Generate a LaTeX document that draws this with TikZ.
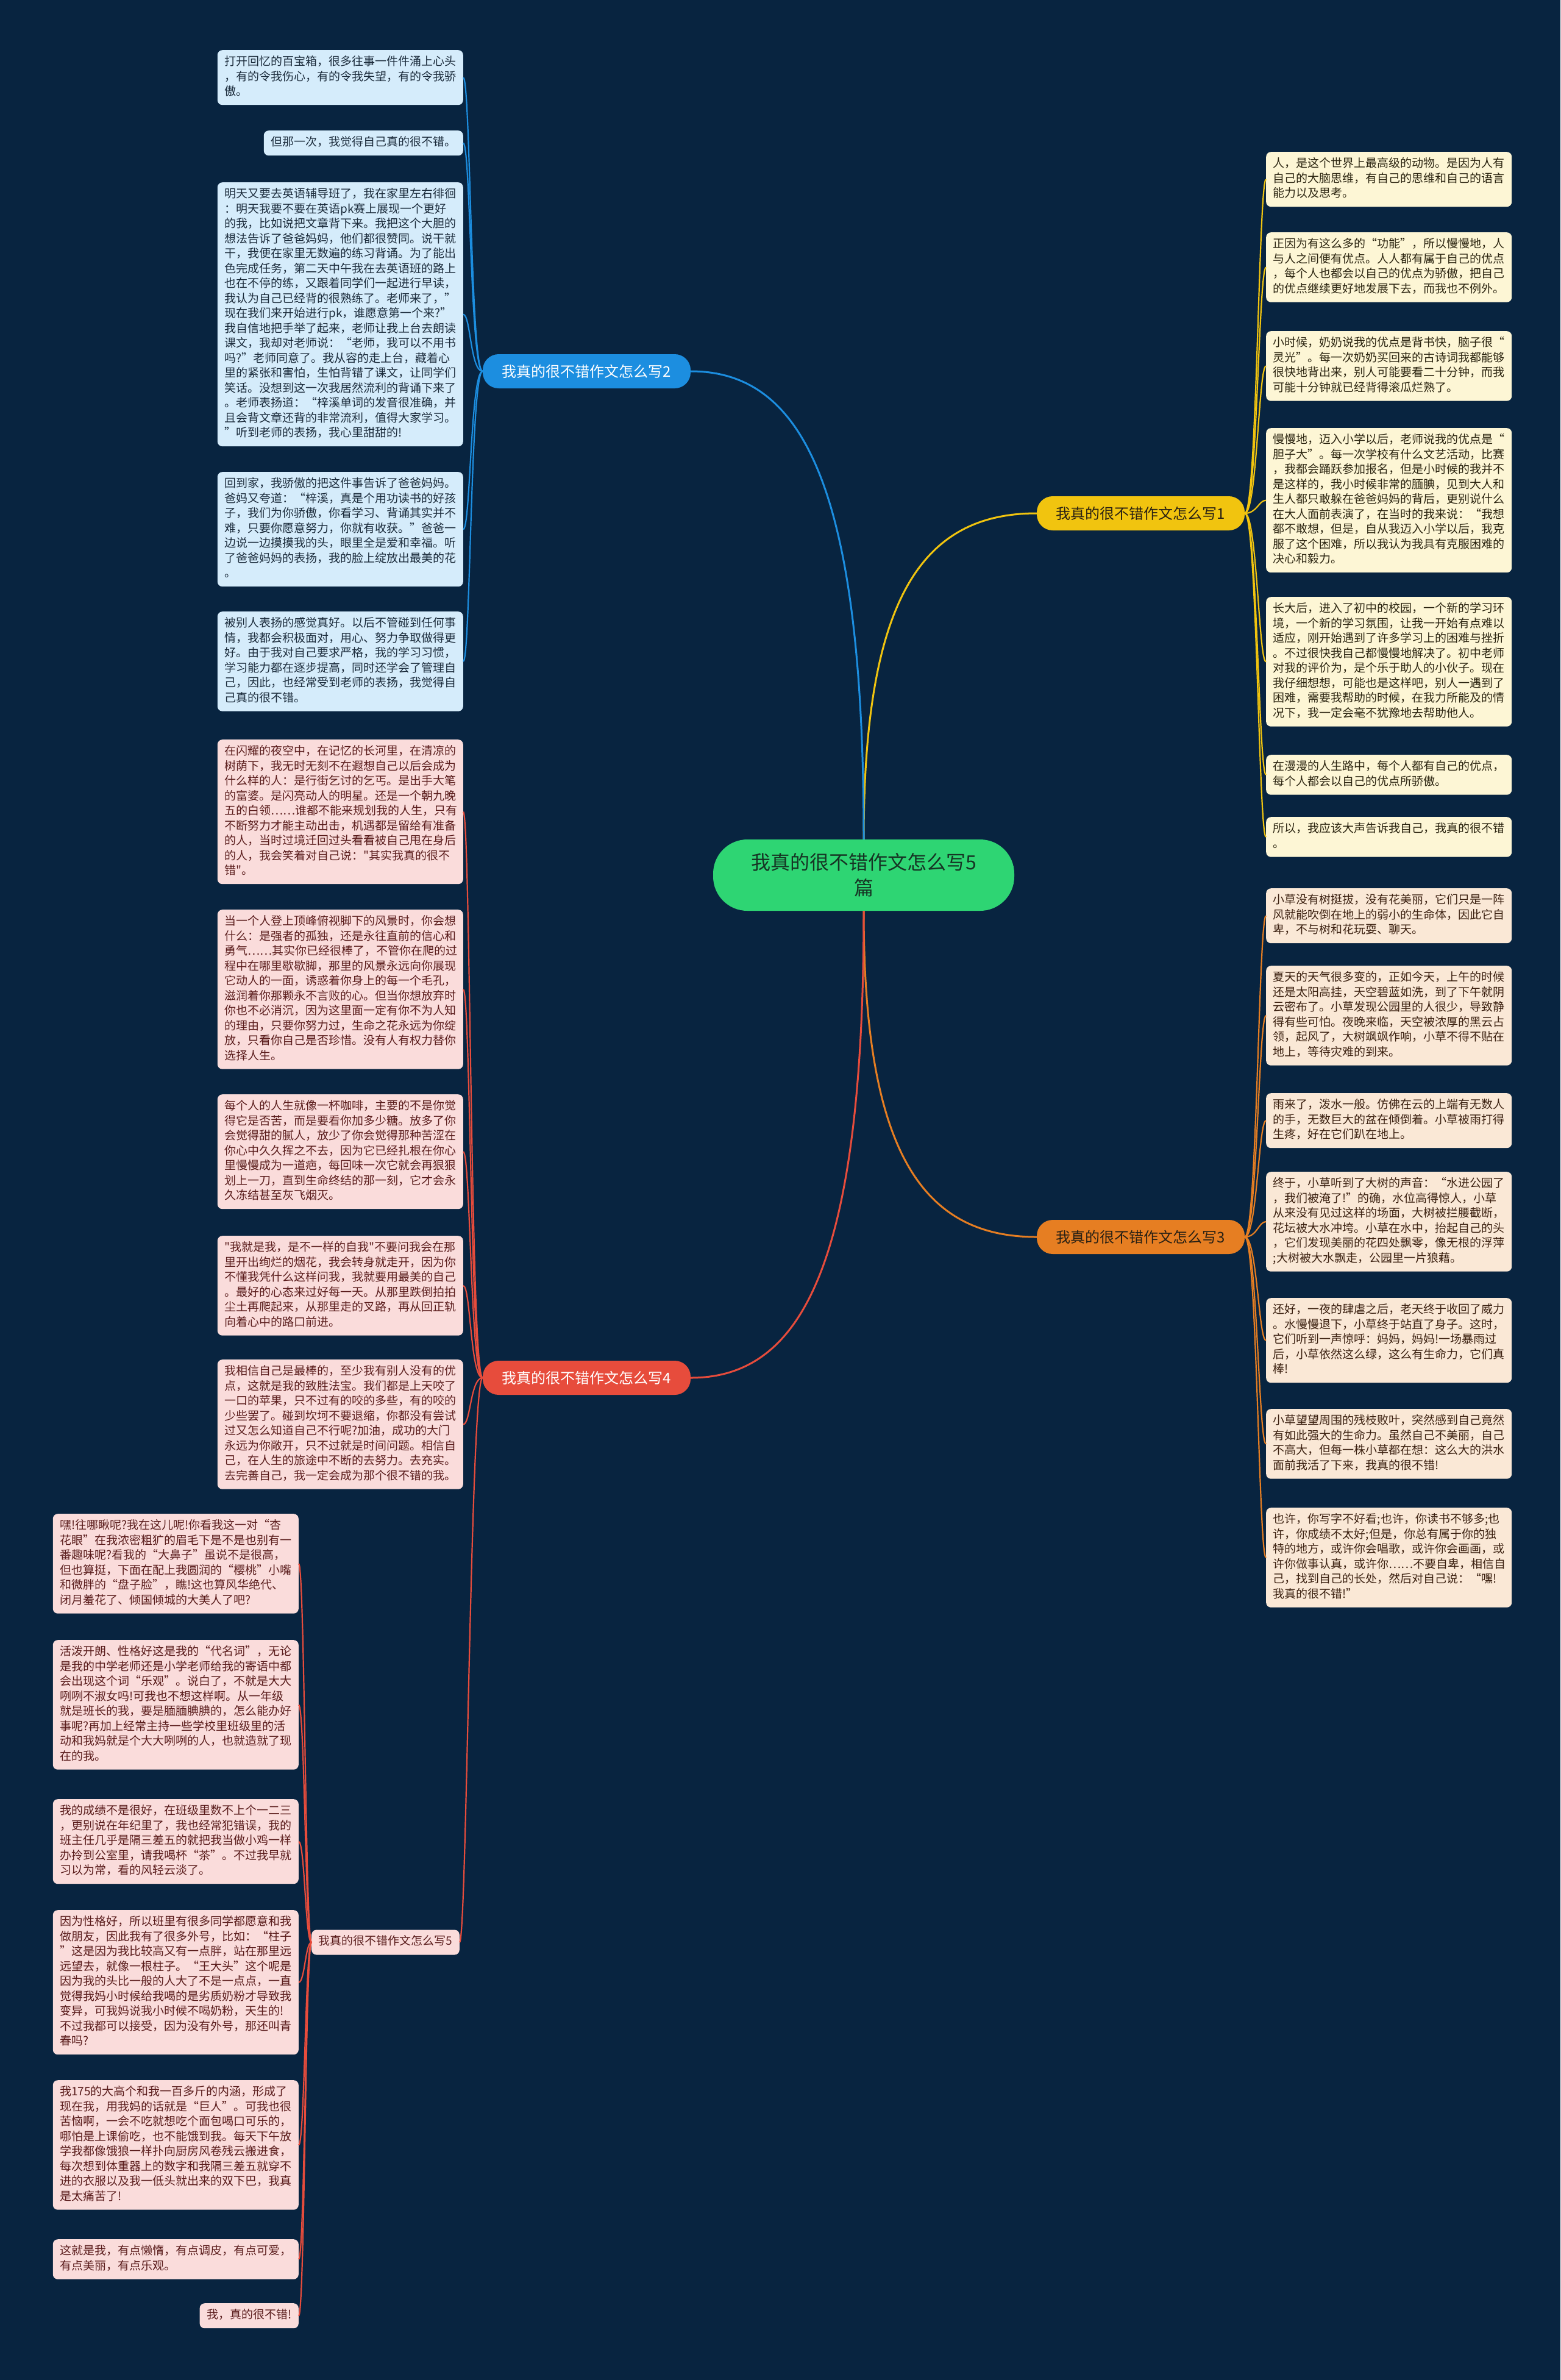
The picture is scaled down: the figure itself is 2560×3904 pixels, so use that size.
\documentclass[tikz,border=0pt]{standalone}
\usepackage{fontspec}
\setmainfont{Noto Sans CJK SC}
\newfontfamily\cjkplain{Noto Sans CJK SC}
\usetikzlibrary{calc}
\definecolor{bg}{RGB}{8,36,64}
\definecolor{bluec}{RGB}{28,142,224}
\definecolor{yellowc}{RGB}{241,196,15}
\definecolor{orangec}{RGB}{230,126,34}
\definecolor{redc}{RGB}{231,76,60}
\definecolor{greenc}{RGB}{46,213,115}
\definecolor{blfill}{RGB}{213,236,251}
\definecolor{ylfill}{RGB}{253,246,213}
\definecolor{olfill}{RGB}{250,232,214}
\definecolor{rlfill}{RGB}{250,220,219}
\definecolor{bltext}{RGB}{27,43,59}
\definecolor{yltext}{RGB}{43,36,16}
\definecolor{oltext}{RGB}{59,32,16}
\definecolor{rltext}{RGB}{90,28,28}
\definecolor{labdark}{RGB}{40,32,20}
\definecolor{centertext}{RGB}{22,52,36}
\tikzset{
  leaf/.style={rounded corners=8pt, inner xsep=11.5pt, inner ysep=8.25pt, align=left,
    font=\cjkplain\fontsize{19}{24.5}\selectfont,
    execute at begin node=\strut, execute at end node=\strut},
  wide/.style={text width=380pt},
  bl/.style={leaf, fill=blfill, text=bltext},
  yl/.style={leaf, fill=ylfill, text=yltext},
  ol/.style={leaf, fill=olfill, text=oltext},
  rl/.style={leaf, fill=rlfill, text=rltext},
  lab/.style={rounded corners=26pt, minimum width=341pt, minimum height=56pt, inner sep=0pt,
    font=\cjkplain\fontsize{24}{28}\selectfont},
  mainline/.style={line width=3pt},
  subline/.style={line width=2.2pt},
}
\begin{document}
\begin{tikzpicture}[x=1pt,y=-1pt]
\fill[bg] (0,0) rectangle (2560,3904);
\useasboundingbox (0,0) rectangle (2560,3904);

% center
\node[fill=greenc, text=centertext, rounded corners=56pt, minimum width=494pt, minimum height=117pt,
  inner sep=0pt, align=center, font=\cjkplain\fontsize{32}{42}\selectfont] (C) at (1417,1435.5)
  {我真的很不错作文怎么写5\\篇};

% branch labels
\node[lab, fill=yellowc, text=labdark] (L1) at (1871.5,842) {我真的很不错作文怎么写1};
\node[lab, fill=bluec, text=white] (L2) at (962.5,609) {我真的很不错作文怎么写2};
\node[lab, fill=orangec, text=labdark] (L3) at (1871.5,2029) {我真的很不错作文怎么写3};
\node[lab, fill=redc, text=white] (L4) at (962.5,2260) {我真的很不错作文怎么写4};
\node[rl] (L5) at (632.5,3186) {我真的很不错作文怎么写5};

% branch 2 leaves
\node[bl, wide, anchor=north east] (b1) at (760,82) {打开回忆的百宝箱，很多往事一件件涌上心头\\，有的令我伤心，有的令我失望，有的令我骄\\傲。};
\node[bl, anchor=north east] (b2) at (760,214) {但那一次，我觉得自己真的很不错。};
\node[bl, wide, anchor=north east] (b3) at (760,299) {明天又要去英语辅导班了，我在家里左右徘徊\\：明天我要不要在英语pk赛上展现一个更好\\的我，比如说把文章背下来。我把这个大胆的\\想法告诉了爸爸妈妈，他们都很赞同。说干就\\干，我便在家里无数遍的练习背诵。为了能出\\色完成任务，第二天中午我在去英语班的路上\\也在不停的练，又跟着同学们一起进行早读，\\我认为自己已经背的很熟练了。老师来了，”\\现在我们来开始进行pk，谁愿意第一个来?”\\我自信地把手举了起来，老师让我上台去朗读\\课文，我却对老师说：“老师，我可以不用书\\吗?”老师同意了。我从容的走上台，藏着心\\里的紧张和害怕，生怕背错了课文，让同学们\\笑话。没想到这一次我居然流利的背诵下来了\\。老师表扬道：“梓溪单词的发音很准确，并\\且会背文章还背的非常流利，值得大家学习。\\”听到老师的表扬，我心里甜甜的!};
\node[bl, wide, anchor=north east] (b4) at (760,774) {回到家，我骄傲的把这件事告诉了爸爸妈妈。\\爸妈又夸道：“梓溪，真是个用功读书的好孩\\子，我们为你骄傲，你看学习、背诵其实并不\\难，只要你愿意努力，你就有收获。”爸爸一\\边说一边摸摸我的头，眼里全是爱和幸福。听\\了爸爸妈妈的表扬，我的脸上绽放出最美的花\\。};
\node[bl, wide, anchor=north east] (b5) at (760,1003) {被别人表扬的感觉真好。以后不管碰到任何事\\情，我都会积极面对，用心、努力争取做得更\\好。由于我对自己要求严格，我的学习习惯，\\学习能力都在逐步提高，同时还学会了管理自\\己，因此，也经常受到老师的表扬，我觉得自\\己真的很不错。};

% branch 4 leaves
\node[rl, wide, anchor=north east] (r1) at (760,1213) {在闪耀的夜空中，在记忆的长河里，在清凉的\\树荫下，我无时无刻不在遐想自己以后会成为\\什么样的人：是行街乞讨的乞丐。是出手大笔\\的富婆。是闪亮动人的明星。还是一个朝九晚\\五的白领……谁都不能来规划我的人生，只有\\不断努力才能主动出击，机遇都是留给有准备\\的人，当时过境迁回过头看看被自己甩在身后\\的人，我会笑着对自己说："其实我真的很不\\错"。};
\node[rl, wide, anchor=north east] (r2) at (760,1492) {当一个人登上顶峰俯视脚下的风景时，你会想\\什么：是强者的孤独，还是永往直前的信心和\\勇气……其实你已经很棒了，不管你在爬的过\\程中在哪里歇歇脚，那里的风景永远向你展现\\它动人的一面，诱惑着你身上的每一个毛孔，\\滋润着你那颗永不言败的心。但当你想放弃时\\你也不必消沉，因为这里面一定有你不为人知\\的理由，只要你努力过，生命之花永远为你绽\\放，只看你自己是否珍惜。没有人有权力替你\\选择人生。};
\node[rl, wide, anchor=north east] (r3) at (760,1795) {每个人的人生就像一杯咖啡，主要的不是你觉\\得它是否苦，而是要看你加多少糖。放多了你\\会觉得甜的腻人，放少了你会觉得那种苦涩在\\你心中久久挥之不去，因为它已经扎根在你心\\里慢慢成为一道疤，每回味一次它就会再狠狠\\划上一刀，直到生命终结的那一刻，它才会永\\久冻结甚至灰飞烟灭。};
\node[rl, wide, anchor=north east] (r4) at (760,2027) {"我就是我，是不一样的自我"不要问我会在那\\里开出绚烂的烟花，我会转身就走开，因为你\\不懂我凭什么这样问我，我就要用最美的自己\\。最好的心态来过好每一天。从那里跌倒拍拍\\尘土再爬起来，从那里走的叉路，再从回正轨\\向着心中的路口前进。};
\node[rl, wide, anchor=north east] (r5) at (760,2230) {我相信自己是最棒的，至少我有别人没有的优\\点，这就是我的致胜法宝。我们都是上天咬了\\一口的苹果，只不过有的咬的多些，有的咬的\\少些罢了。碰到坎坷不要退缩，你都没有尝试\\过又怎么知道自己不行呢?加油，成功的大门\\永远为你敞开，只不过就是时间问题。相信自\\己，在人生的旅途中不断的去努力。去充实。\\去完善自己，我一定会成为那个很不错的我。};

% branch 5 leaves
\node[rl, wide, anchor=north east] (p1) at (490,2483) {嘿!往哪瞅呢?我在这儿呢!你看我这一对“杏\\花眼”在我浓密粗犷的眉毛下是不是也别有一\\番趣味呢?看我的“大鼻子”虽说不是很高，\\但也算挺，下面在配上我圆润的“樱桃”小嘴\\和微胖的“盘子脸”，瞧!这也算风华绝代、\\闭月羞花了、倾国倾城的大美人了吧?};
\node[rl, wide, anchor=north east] (p2) at (490,2690) {活泼开朗、性格好这是我的“代名词”，无论\\是我的中学老师还是小学老师给我的寄语中都\\会出现这个词“乐观”。说白了，不就是大大\\咧咧不淑女吗!可我也不想这样啊。从一年级\\就是班长的我，要是腼腼腆腆的，怎么能办好\\事呢?再加上经常主持一些学校里班级里的活\\动和我妈就是个大大咧咧的人，也就造就了现\\在的我。};
\node[rl, wide, anchor=north east] (p3) at (490,2951) {我的成绩不是很好，在班级里数不上个一二三\\，更别说在年纪里了，我也经常犯错误，我的\\班主任几乎是隔三差五的就把我当做小鸡一样\\办拎到公室里，请我喝杯“茶”。不过我早就\\习以为常，看的风轻云淡了。};
\node[rl, wide, anchor=north east] (p4) at (490,3133) {因为性格好，所以班里有很多同学都愿意和我\\做朋友，因此我有了很多外号，比如：“柱子\\”这是因为我比较高又有一点胖，站在那里远\\远望去，就像一根柱子。“王大头”这个呢是\\因为我的头比一般的人大了不是一点点，一直\\觉得我妈小时候给我喝的是劣质奶粉才导致我\\变异，可我妈说我小时候不喝奶粉，天生的!\\不过我都可以接受，因为没有外号，那还叫青\\春吗?};
\node[rl, wide, anchor=north east] (p5) at (490,3412) {我175的大高个和我一百多斤的内涵，形成了\\现在我，用我妈的话就是“巨人”。可我也很\\苦恼啊，一会不吃就想吃个面包喝口可乐的，\\哪怕是上课偷吃，也不能饿到我。每天下午放\\学我都像饿狼一样扑向厨房风卷残云搬进食，\\每次想到体重器上的数字和我隔三差五就穿不\\进的衣服以及我一低头就出来的双下巴，我真\\是太痛苦了!};
\node[rl, wide, anchor=north east] (p6) at (490,3673) {这就是我，有点懒惰，有点调皮，有点可爱，\\有点美丽，有点乐观。};
\node[rl, anchor=north east] (p7) at (490,3778) {我，真的很不错!};

% branch 1 leaves
\node[yl, wide, anchor=north west] (y1) at (2077,249) {人，是这个世界上最高级的动物。是因为人有\\自己的大脑思维，有自己的思维和自己的语言\\能力以及思考。};
\node[yl, wide, anchor=north west] (y2) at (2077,381) {正因为有这么多的“功能”，所以慢慢地，人\\与人之间便有优点。人人都有属于自己的优点\\，每个人也都会以自己的优点为骄傲，把自己\\的优点继续更好地发展下去，而我也不例外。};
\node[yl, wide, anchor=north west] (y3) at (2077,543) {小时候，奶奶说我的优点是背书快，脑子很“\\灵光”。每一次奶奶买回来的古诗词我都能够\\很快地背出来，别人可能要看二十分钟，而我\\可能十分钟就已经背得滚瓜烂熟了。};
\node[yl, wide, anchor=north west] (y4) at (2077,702) {慢慢地，迈入小学以后，老师说我的优点是“\\胆子大”。每一次学校有什么文艺活动，比赛\\，我都会踊跃参加报名，但是小时候的我并不\\是这样的，我小时候非常的腼腆，见到大人和\\生人都只敢躲在爸爸妈妈的背后，更别说什么\\在大人面前表演了，在当时的我来说：“我想\\都不敢想，但是，自从我迈入小学以后，我克\\服了这个困难，所以我认为我具有克服困难的\\决心和毅力。};
\node[yl, wide, anchor=north west] (y5) at (2077,979) {长大后，进入了初中的校园，一个新的学习环\\境，一个新的学习氛围，让我一开始有点难以\\适应，刚开始遇到了许多学习上的困难与挫折\\。不过很快我自己都慢慢地解决了。初中老师\\对我的评价为，是个乐于助人的小伙子。现在\\我仔细想想，可能也是这样吧，别人一遇到了\\困难，需要我帮助的时候，在我力所能及的情\\况下，我一定会毫不犹豫地去帮助他人。};
\node[yl, wide, anchor=north west] (y6) at (2077,1238) {在漫漫的人生路中，每个人都有自己的优点，\\每个人都会以自己的优点所骄傲。};
\node[yl, wide, anchor=north west] (y7) at (2077,1340) {所以，我应该大声告诉我自己，我真的很不错\\。};

% branch 3 leaves
\node[ol, wide, anchor=north west] (o1) at (2077,1457) {小草没有树挺拔，没有花美丽，它们只是一阵\\风就能吹倒在地上的弱小的生命体，因此它自\\卑，不与树和花玩耍、聊天。};
\node[ol, wide, anchor=north west] (o2) at (2077,1584) {夏天的天气很多变的，正如今天，上午的时候\\还是太阳高挂，天空碧蓝如洗，到了下午就阴\\云密布了。小草发现公园里的人很少，导致静\\得有些可怕。夜晚来临，天空被浓厚的黑云占\\领，起风了，大树飒飒作响，小草不得不贴在\\地上，等待灾难的到来。};
\node[ol, wide, anchor=north west] (o3) at (2077,1793) {雨来了，泼水一般。仿佛在云的上端有无数人\\的手，无数巨大的盆在倾倒着。小草被雨打得\\生疼，好在它们趴在地上。};
\node[ol, wide, anchor=north west] (o4) at (2077,1922) {终于，小草听到了大树的声音：“水进公园了\\，我们被淹了!”的确，水位高得惊人，小草\\从来没有见过这样的场面，大树被拦腰截断，\\花坛被大水冲垮。小草在水中，抬起自己的头\\，它们发现美丽的花四处飘零，像无根的浮萍\\;大树被大水飘走，公园里一片狼藉。};
\node[ol, wide, anchor=north west] (o5) at (2077,2129) {还好，一夜的肆虐之后，老天终于收回了威力\\。水慢慢退下，小草终于站直了身子。这时，\\它们听到一声惊呼：妈妈，妈妈!一场暴雨过\\后，小草依然这么绿，这么有生命力，它们真\\棒!};
\node[ol, wide, anchor=north west] (o6) at (2077,2311) {小草望望周围的残枝败叶，突然感到自己竟然\\有如此强大的生命力。虽然自己不美丽，自己\\不高大，但每一株小草都在想：这么大的洪水\\面前我活了下来，我真的很不错!};
\node[ol, wide, anchor=north west] (o7) at (2077,2473) {也许，你写字不好看;也许，你读书不够多;也\\许，你成绩不太好;但是，你总有属于你的独\\特的地方，或许你会唱歌，或许你会画画，或\\许你做事认真，或许你……不要自卑，相信自\\己，找到自己的长处，然后对自己说：“嘿!\\我真的很不错!”};

% main connectors
\draw[mainline, yellowc] (C.north) .. controls ($(C.north)!0.75!(C.north |- L1.west)$) and ($(C.north |- L1.west)!0.35!(L1.west)$) .. (L1.west);
\draw[mainline, bluec] (C.north) .. controls ($(C.north)!0.75!(C.north |- L2.east)$) and ($(C.north |- L2.east)!0.35!(L2.east)$) .. (L2.east);
\draw[mainline, orangec] (C.south) .. controls ($(C.south)!0.75!(C.south |- L3.west)$) and ($(C.south |- L3.west)!0.35!(L3.west)$) .. (L3.west);
\draw[mainline, redc] (C.south) .. controls ($(C.south)!0.75!(C.south |- L4.east)$) and ($(C.south |- L4.east)!0.35!(L4.east)$) .. (L4.east);

% sub connectors
\foreach \n in {b1,b2,b3,b4,b5}
  \draw[subline, bluec] (L2.west) .. controls +(-20,0) and +(12,0) .. (\n.east);
\foreach \n in {r1,r2,r3,r4,r5}
  \draw[subline, redc] (L4.west) .. controls +(-20,0) and +(12,0) .. (\n.east);
\draw[subline, redc] (L4.west) .. controls +(-20,0) and +(12,0) .. (L5.east);
\foreach \n in {p1,p2,p3,p4,p5,p6,p7}
  \draw[subline, redc] (L5.west) .. controls +(-10,0) and +(10,0) .. (\n.east);
\foreach \n in {y1,y2,y3,y4,y5,y6,y7}
  \draw[subline, yellowc] (L1.east) .. controls +(20,0) and +(-12,0) .. (\n.west);
\foreach \n in {o1,o2,o3,o4,o5,o6,o7}
  \draw[subline, orangec] (L3.east) .. controls +(20,0) and +(-12,0) .. (\n.west);
\end{tikzpicture}
\end{document}
